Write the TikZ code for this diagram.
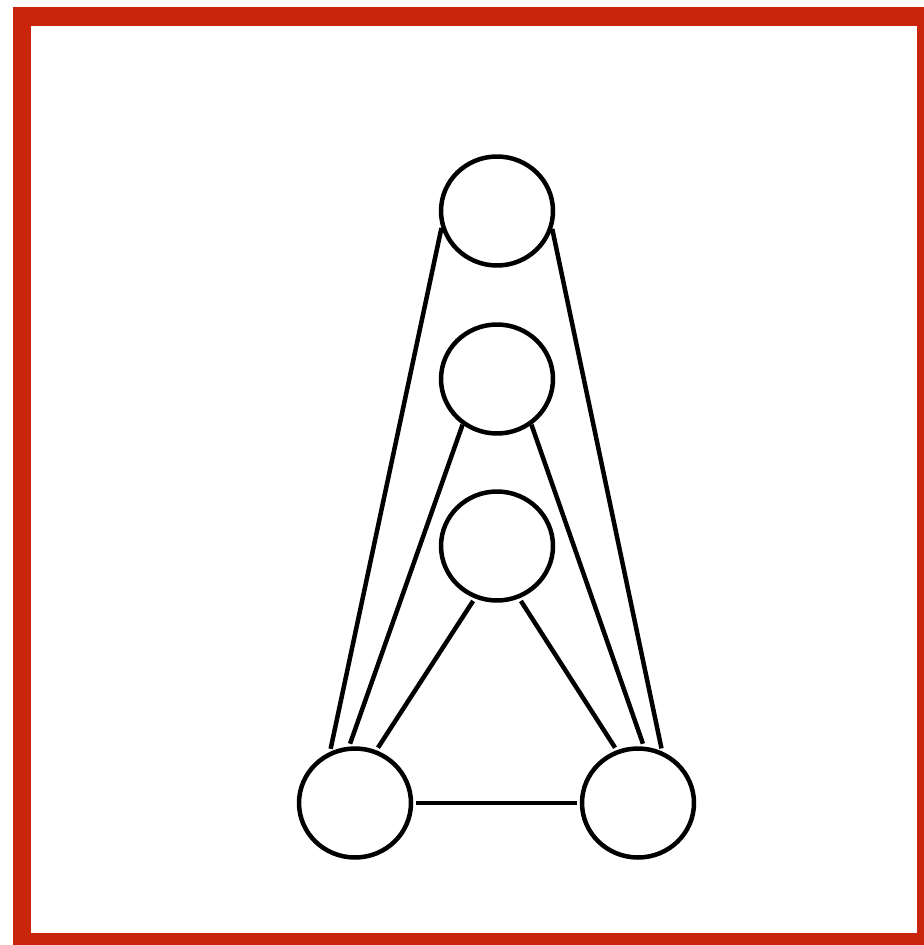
\documentclass[tikz,border=0pt]{standalone}
\usetikzlibrary{shapes.geometric}
\definecolor{framered}{RGB}{201,37,11}
\tikzset{
    ring/.style={draw, ellipse, line width=0.09cm, minimum width=2.24cm, minimum height=2.18cm, inner sep=0pt},
    bar/.style={line width=0.09cm}
}
\begin{document}
\begin{tikzpicture}[x=0.02cm, y=-0.02cm]
    \useasboundingbox (0,0) rectangle (923,945);
    \draw[framered, line width=0.37cm] (22,16.5) rectangle (926,942);

    \node[ring] (apex) at (497,211) {};
    \node[ring] (middle) at (497,379) {};
    \node[ring] (inner) at (497,546) {};
    \node[ring] (left) at (355,803) {};
    \node[ring] (right) at (638,803) {};

    \draw[bar, shorten >=0.06cm] (apex.197) -- (left.116);
    \draw[bar, shorten >=0.06cm] (apex.342) -- (right.65);
    \draw[bar, shorten >=0.06cm] (middle.233) -- (left.96);
    \draw[bar, shorten >=0.06cm] (middle.307) -- (right.84);
    \draw[bar, shorten <=0.06cm, shorten >=0.06cm] (inner.247) -- (left.68);
    \draw[bar, shorten <=0.06cm, shorten >=0.06cm] (inner.293) -- (right.112);
    \draw[bar, shorten <=0.06cm, shorten >=0.06cm] (left.0) -- (right.180);
\end{tikzpicture}
\end{document}
